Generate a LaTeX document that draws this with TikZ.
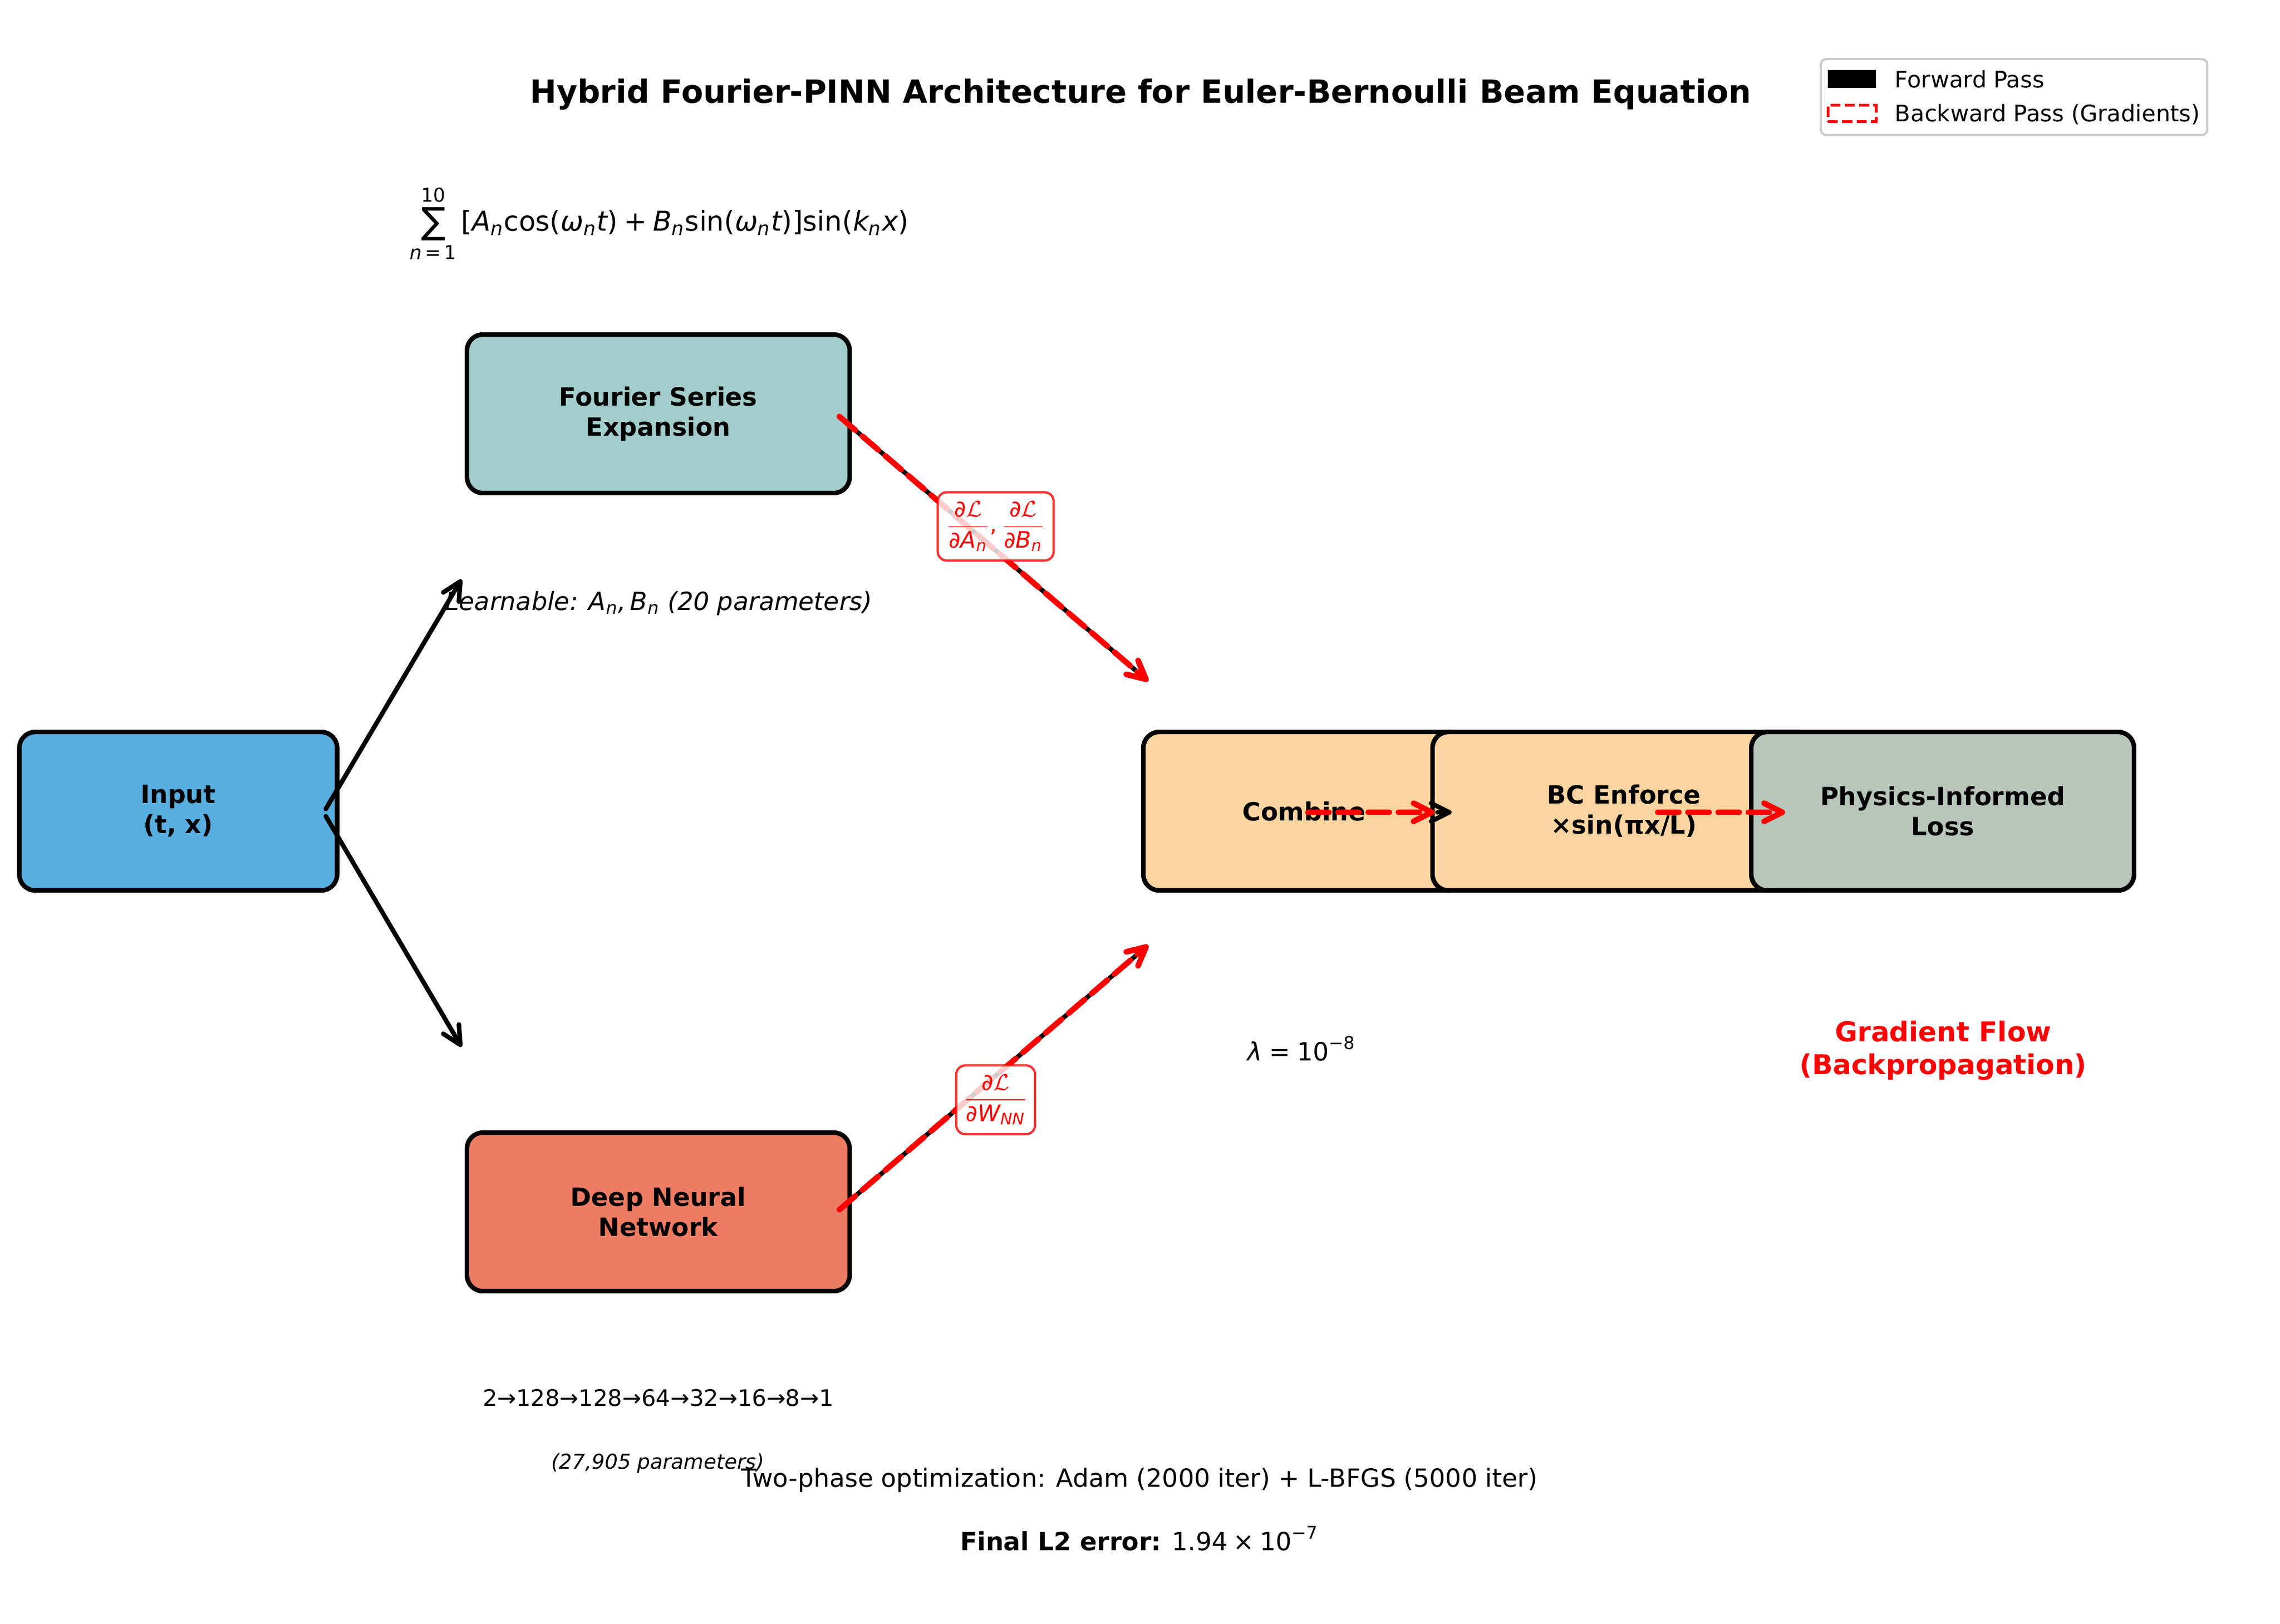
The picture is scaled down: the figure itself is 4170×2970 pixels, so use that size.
\documentclass[tikz,border=0pt]{standalone}
\usepackage{amsmath}
\usepackage{fontspec}
\setmainfont{DejaVu Sans}
\usetikzlibrary{arrows.meta,calc}
\definecolor{inputblue}{HTML}{57AEDF}
\definecolor{fourierteal}{HTML}{A2CDCA}
\definecolor{dnnsalmon}{HTML}{EE7C62}
\definecolor{combpeach}{HTML}{FCD49F}
\definecolor{physgray}{HTML}{B7C5BA}
\definecolor{legendgray}{HTML}{CCCCCC}
\definecolor{gradred}{HTML}{FF0000}
\newcommand{\vi}[1]{\text{\normalfont\itshape #1}}
\newcommand{\vu}[1]{\text{\normalfont #1}}
\newcommand{\fsz}[1]{\fontsize{#1bp}{1.2\dimexpr#1bp\relax}\selectfont}
\tikzset{
  box/.style={draw=black, line width=2bp, rounded corners=7bp, minimum height=69.6bp,
    inner sep=0pt, align=center, font=\fsz{11}\bfseries},
  fwd/.style={draw=black, line width=2bp, line cap=round,
    -{Straight Barb[length=8bp,width=8bp,round]}},
  bwd/.style={draw=gradred, line width=2.5bp, line cap=round, dash pattern=on 9.25bp off 4bp,
    -{Straight Barb[length=8bp,width=8bp,round]}},
  gradlabel/.style={draw=gradred, draw opacity=0.8, fill=white, fill opacity=0.8, text opacity=1,
    line width=1bp, rounded corners=4bp, inner sep=0pt, text=gradred, font=\fsz{10}},
  plain/.style={inner sep=0pt, align=center}
}
\begin{document}
\begin{tikzpicture}[x=0.0846667mm, y=-0.0846667mm]
\useasboundingbox (0,0) rectangle (4170,2970);

% title
\node[plain, font=\fsz{14}\bfseries] (title) at (2086,173)
  {Hybrid Fourier-PINN Architecture for Euler-Bernoulli Beam Equation};

% legend
\node[draw=legendgray, line width=1bp, rounded corners=2.5bp, fill=white,
  minimum width=169.7bp, minimum height=33.4bp, inner sep=0pt] (legend) at (3683.5,177.5) {};
\node[fill=black, minimum width=21.1bp, minimum height=7.9bp, inner sep=0pt] (legfwdpatch) at (3387,144.5) {};
\node[draw=gradred, line width=1.2bp, dash pattern=on 4.4bp off 1.9bp, minimum width=21.1bp,
  minimum height=7.4bp, inner sep=0pt] (legbwdpatch) at (3387,207.5) {};
\node[anchor=base west, inner sep=0pt, font=\fsz{10}] (legfwd) at (3465,160) {Forward Pass};
\node[anchor=base west, inner sep=0pt, font=\fsz{10}] (legbwd) at (3465,222) {Backward Pass (Gradients)};

% formula
\node[plain, font=\fsz{12}] (formula) at (1206,409)
  {$\displaystyle\mathop{\vcenter{\hbox{\fsz{16}∑}}}\limits_{\vi{n}\,\vu{=}\,\vu{1}}^{\vu{10}}\vu{[}\vi{A}_{\vi{n}}\vu{cos(}\vi{ω}_{\vi{n}}\vi{t}\vu{)}\mathbin{\vu{+}}\vi{B}_{\vi{n}}\vu{sin(}\vi{ω}_{\vi{n}}\vi{t}\vu{)]}\vu{sin(}\vi{k}_{\vi{n}}\vi{x}\vu{)}$};

% boxes
\node[box, fill=inputblue, minimum width=139.5bp] (input) at (326,1484) {Input\\(t, x)};
\node[box, fill=fourierteal, minimum width=168bp] (fourier) at (1204,757) {Fourier Series\\Expansion};
\node[box, fill=dnnsalmon, minimum width=168bp] (dnn) at (1204,2217) {Deep Neural\\Network};
\node[box, fill=combpeach, minimum width=141.1bp] (combine) at (2385,1484) {Combine};
\node[box, fill=combpeach, minimum width=168bp] (bc) at (2970,1484) {BC Enforce\\×sin(πx/L)};
\node[box, fill=physgray, minimum width=168bp] (phys) at (3553,1484) {Physics-Informed\\Loss};

% annotations
\node[plain, font=\fsz{11}\itshape] (learnable) at (1205,1104)
  {Learnable: $\vi{A}_{\vi{n}}\vi{,}\,\vi{B}_{\vi{n}}$ (20 parameters)};
\node[plain, font=\fsz{11}] (lambda) at (2381,1918) {$\vi{λ}\mathrel{\vu{=}}\vu{10}^{\vu{−8}}$};
\node[plain, font=\fsz{12}\bfseries, text=gradred] (gradflow) at (3554,1922) {Gradient Flow\\(Backpropagation)};
\node[plain, font=\fsz{10}] (arch) at (1204,2557) {2→128→128→64→32→16→8→1};
\node[plain, font=\fsz{9}\itshape] (params) at (1203,2677) {(27,905 parameters)};
\node[plain, font=\fsz{11}] (optim) at (2084,2708) {Two-phase optimization: Adam (2000 iter) + L-BFGS (5000 iter)};
\node[plain, font=\fsz{11}] (finalerr) at (2084,2815)
  {\textbf{Final L2 error:} $\vu{1.94}\mathbin{\vu{×}}\vu{10}^{\vu{−7}}$};

% connector end points
\coordinate (fwdTop) at (844,1060);
\coordinate (fwdBot) at (844,1915);
\coordinate (combIn1) at ($(combine.west)+(13,-238)$);
\coordinate (combIn2) at ($(combine.west)+(13,245)$);

% forward arrows
\draw[fwd] ($(input.east)+(-25,-4)$) -- (fwdTop);
\draw[fwd] ($(input.east)+(-25,9)$) -- (fwdBot);
\draw[fwd] ($(fourier.east)+(-23,5)$) -- (combIn1);
\draw[fwd] ($(dnn.east)+(-23,-4)$) -- (combIn2);
\draw[fwd] ($(bc.west)+(13,2)$) -- ($(bc.west)+(39,2)$);

% backward (gradient) arrows
\draw[bwd] ($(fourier.east)+(-23,5)$) -- (combIn1);
\draw[bwd] ($(dnn.east)+(-23,-4)$) -- (combIn2);
\draw[bwd] ($(combine.center)+(7,2)$) -- ($(bc.west)+(8,2)$);
\draw[bwd] ($(bc.center)+(62,2)$) -- ($(phys.west)+(66,2)$);

% gradient labels
\node[gradlabel, minimum width=50.9bp, minimum height=30bp] (gradAB) at (1821,963)
  {$\dfrac{\vu{∂}\mathcal{L}}{\vu{∂}\vi{A}_{\vi{n}}}\vu{,}\,\dfrac{\vu{∂}\mathcal{L}}{\vu{∂}\vi{B}_{\vi{n}}}$};
\node[gradlabel, minimum width=34.6bp, minimum height=30.2bp] (gradW) at (1821,2012)
  {$\dfrac{\vu{∂}\mathcal{L}}{\vu{∂}\vi{W}_{\vi{NN}}}$};
\end{tikzpicture}
\end{document}
